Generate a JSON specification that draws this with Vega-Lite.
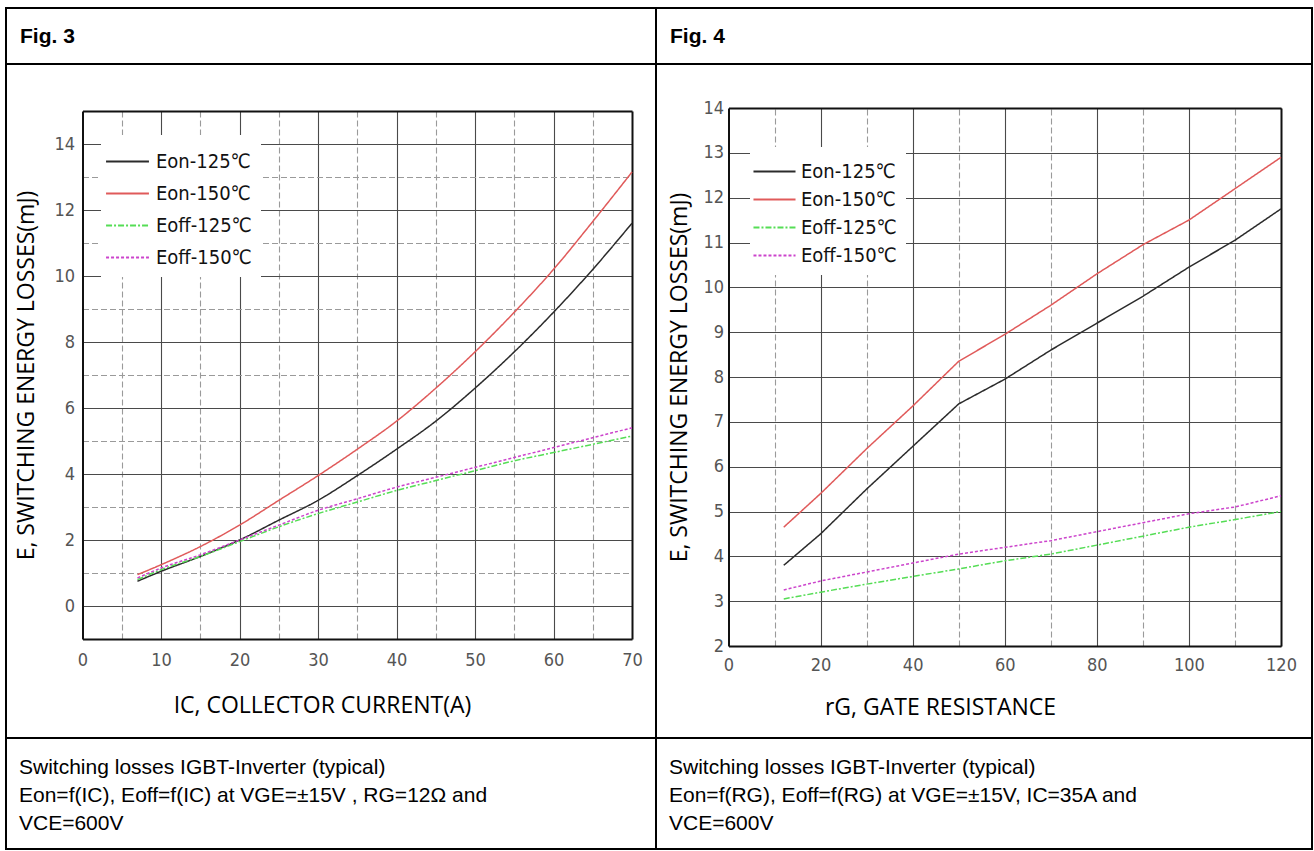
{
  "$schema": "https://vega.github.io/schema/vega-lite/v6.json",
  "padding": {"left": 5, "top": 7, "right": 3, "bottom": 3},
  "background": "#ffffff",
  "config": {
    "view": {"stroke": "#000000", "strokeWidth": 2},
    "axis": {
      "labelFont": "Liberation Sans Narrow, Arial Narrow, DejaVu Sans Condensed, Liberation Sans, sans-serif",
      "labelFontSize": 18,
      "labelColor": "#555555",
      "titleFont": "Open Sans",
      "titleFontSize": 23,
      "titleFontWeight": "normal",
      "titleColor": "#000000",
      "domainColor": "#111111",
      "domainWidth": 2,
      "ticks": false,
      "gridWidth": 1.1
    }
  },
  "resolve": {"scale": {"color": "independent", "strokeDash": "independent"}, "legend": {"color": "independent", "strokeDash": "independent"}},
  "datasets": {
    "fig3": [
      {"x": 7, "y": 0.75, "s": "Eon-125℃"}, {"x": 10, "y": 1.05, "s": "Eon-125℃"}, {"x": 15, "y": 1.5, "s": "Eon-125℃"}, {"x": 20, "y": 2.0, "s": "Eon-125℃"}, {"x": 25, "y": 2.6, "s": "Eon-125℃"}, {"x": 30, "y": 3.2, "s": "Eon-125℃"}, {"x": 35, "y": 3.95, "s": "Eon-125℃"}, {"x": 40, "y": 4.75, "s": "Eon-125℃"}, {"x": 45, "y": 5.6, "s": "Eon-125℃"}, {"x": 50, "y": 6.6, "s": "Eon-125℃"}, {"x": 55, "y": 7.7, "s": "Eon-125℃"}, {"x": 60, "y": 8.9, "s": "Eon-125℃"}, {"x": 65, "y": 10.2, "s": "Eon-125℃"}, {"x": 70, "y": 11.6, "s": "Eon-125℃"},
      {"x": 7, "y": 0.95, "s": "Eon-150℃"}, {"x": 10, "y": 1.25, "s": "Eon-150℃"}, {"x": 15, "y": 1.8, "s": "Eon-150℃"}, {"x": 20, "y": 2.45, "s": "Eon-150℃"}, {"x": 25, "y": 3.2, "s": "Eon-150℃"}, {"x": 30, "y": 3.95, "s": "Eon-150℃"}, {"x": 35, "y": 4.75, "s": "Eon-150℃"}, {"x": 40, "y": 5.6, "s": "Eon-150℃"}, {"x": 45, "y": 6.6, "s": "Eon-150℃"}, {"x": 50, "y": 7.7, "s": "Eon-150℃"}, {"x": 55, "y": 8.9, "s": "Eon-150℃"}, {"x": 60, "y": 10.2, "s": "Eon-150℃"}, {"x": 65, "y": 11.65, "s": "Eon-150℃"}, {"x": 70, "y": 13.15, "s": "Eon-150℃"},
      {"x": 7, "y": 0.8, "s": "Eoff-125℃"}, {"x": 10, "y": 1.1, "s": "Eoff-125℃"}, {"x": 15, "y": 1.5, "s": "Eoff-125℃"}, {"x": 20, "y": 1.95, "s": "Eoff-125℃"}, {"x": 25, "y": 2.4, "s": "Eoff-125℃"}, {"x": 30, "y": 2.8, "s": "Eoff-125℃"}, {"x": 35, "y": 3.15, "s": "Eoff-125℃"}, {"x": 40, "y": 3.5, "s": "Eoff-125℃"}, {"x": 45, "y": 3.8, "s": "Eoff-125℃"}, {"x": 50, "y": 4.1, "s": "Eoff-125℃"}, {"x": 55, "y": 4.4, "s": "Eoff-125℃"}, {"x": 60, "y": 4.65, "s": "Eoff-125℃"}, {"x": 65, "y": 4.9, "s": "Eoff-125℃"}, {"x": 70, "y": 5.15, "s": "Eoff-125℃"},
      {"x": 7, "y": 0.85, "s": "Eoff-150℃"}, {"x": 10, "y": 1.15, "s": "Eoff-150℃"}, {"x": 15, "y": 1.55, "s": "Eoff-150℃"}, {"x": 20, "y": 2.0, "s": "Eoff-150℃"}, {"x": 25, "y": 2.45, "s": "Eoff-150℃"}, {"x": 30, "y": 2.9, "s": "Eoff-150℃"}, {"x": 35, "y": 3.25, "s": "Eoff-150℃"}, {"x": 40, "y": 3.6, "s": "Eoff-150℃"}, {"x": 45, "y": 3.9, "s": "Eoff-150℃"}, {"x": 50, "y": 4.2, "s": "Eoff-150℃"}, {"x": 55, "y": 4.5, "s": "Eoff-150℃"}, {"x": 60, "y": 4.8, "s": "Eoff-150℃"}, {"x": 65, "y": 5.1, "s": "Eoff-150℃"}, {"x": 70, "y": 5.4, "s": "Eoff-150℃"}
    ],
    "fig4": [
      {"x": 12, "y": 3.8, "s": "Eon-125℃"}, {"x": 20, "y": 4.5, "s": "Eon-125℃"}, {"x": 30, "y": 5.5, "s": "Eon-125℃"}, {"x": 40, "y": 6.45, "s": "Eon-125℃"}, {"x": 50, "y": 7.4, "s": "Eon-125℃"}, {"x": 60, "y": 7.95, "s": "Eon-125℃"}, {"x": 70, "y": 8.6, "s": "Eon-125℃"}, {"x": 80, "y": 9.2, "s": "Eon-125℃"}, {"x": 90, "y": 9.8, "s": "Eon-125℃"}, {"x": 100, "y": 10.45, "s": "Eon-125℃"}, {"x": 110, "y": 11.05, "s": "Eon-125℃"}, {"x": 120, "y": 11.75, "s": "Eon-125℃"},
      {"x": 12, "y": 4.65, "s": "Eon-150℃"}, {"x": 20, "y": 5.4, "s": "Eon-150℃"}, {"x": 30, "y": 6.4, "s": "Eon-150℃"}, {"x": 40, "y": 7.35, "s": "Eon-150℃"}, {"x": 50, "y": 8.35, "s": "Eon-150℃"}, {"x": 60, "y": 8.95, "s": "Eon-150℃"}, {"x": 70, "y": 9.6, "s": "Eon-150℃"}, {"x": 80, "y": 10.3, "s": "Eon-150℃"}, {"x": 90, "y": 10.95, "s": "Eon-150℃"}, {"x": 100, "y": 11.5, "s": "Eon-150℃"}, {"x": 110, "y": 12.2, "s": "Eon-150℃"}, {"x": 120, "y": 12.9, "s": "Eon-150℃"},
      {"x": 12, "y": 3.05, "s": "Eoff-125℃"}, {"x": 20, "y": 3.2, "s": "Eoff-125℃"}, {"x": 30, "y": 3.38, "s": "Eoff-125℃"}, {"x": 40, "y": 3.55, "s": "Eoff-125℃"}, {"x": 50, "y": 3.72, "s": "Eoff-125℃"}, {"x": 60, "y": 3.9, "s": "Eoff-125℃"}, {"x": 70, "y": 4.05, "s": "Eoff-125℃"}, {"x": 80, "y": 4.25, "s": "Eoff-125℃"}, {"x": 90, "y": 4.45, "s": "Eoff-125℃"}, {"x": 100, "y": 4.65, "s": "Eoff-125℃"}, {"x": 110, "y": 4.82, "s": "Eoff-125℃"}, {"x": 120, "y": 5.0, "s": "Eoff-125℃"},
      {"x": 12, "y": 3.25, "s": "Eoff-150℃"}, {"x": 20, "y": 3.45, "s": "Eoff-150℃"}, {"x": 30, "y": 3.65, "s": "Eoff-150℃"}, {"x": 40, "y": 3.85, "s": "Eoff-150℃"}, {"x": 50, "y": 4.05, "s": "Eoff-150℃"}, {"x": 60, "y": 4.2, "s": "Eoff-150℃"}, {"x": 70, "y": 4.35, "s": "Eoff-150℃"}, {"x": 80, "y": 4.55, "s": "Eoff-150℃"}, {"x": 90, "y": 4.75, "s": "Eoff-150℃"}, {"x": 100, "y": 4.95, "s": "Eoff-150℃"}, {"x": 110, "y": 5.1, "s": "Eoff-150℃"}, {"x": 120, "y": 5.35, "s": "Eoff-150℃"}
    ]
  },
  "columns": 2,
  "spacing": 0,
  "bounds": "flush",
  "concat": [
    {
      "width": 650, "height": 56,
      "view": {"stroke": "#000000", "strokeWidth": 2},
      "data": {"values": [{"label": "Fig. 3"}]},
      "mark": {"type": "text", "align": "left", "baseline": "middle", "x": 14, "y": 29, "font": "Liberation Sans", "fontWeight": "bold", "fontSize": 21, "color": "#000000"},
      "encoding": {"text": {"field": "label"}}
    },
    {
      "width": 656, "height": 56,
      "view": {"stroke": "#000000", "strokeWidth": 2},
      "data": {"values": [{"label": "Fig. 4"}]},
      "mark": {"type": "text", "align": "left", "baseline": "middle", "x": 14, "y": 29, "font": "Liberation Sans", "fontWeight": "bold", "fontSize": 21, "color": "#000000"},
      "encoding": {"text": {"field": "label"}}
    },
    {
      "width": 650, "height": 674,
      "data": {"name": "fig3"},
      "encoding": {
        "color": {"field": "s", "type": "nominal",
          "scale": {"domain": ["Eon-125℃", "Eon-150℃", "Eoff-125℃", "Eoff-150℃"], "range": ["#2b2b2b", "#e05a5a", "#55dd55", "#cc44cc"]},
          "legend": {"title": null, "orient": "none", "legendX": 95, "legendY": 71, "fillColor": "#ffffff", "padding": 9, "symbolType": "M-1.3,0H1.3", "symbolSize": 1089, "symbolStrokeWidth": 2, "labelOffset": 11, "labelFont": "Liberation Sans Narrow, Arial Narrow, DejaVu Sans Condensed, Liberation Sans, sans-serif", "labelFontSize": 20, "labelColor": "#111111", "rowPadding": 4}},
        "strokeDash": {"field": "s", "type": "nominal",
          "scale": {"domain": ["Eon-125℃", "Eon-150℃", "Eoff-125℃", "Eoff-150℃"], "range": [[1, 0], [1, 0], [6, 2, 2, 2], [3, 2]]},
          "legend": {"title": null, "orient": "none", "legendX": 95, "legendY": 71, "fillColor": "#ffffff", "padding": 9, "symbolType": "M-1.3,0H1.3", "symbolSize": 1089, "symbolStrokeWidth": 2, "labelOffset": 11, "labelFont": "Liberation Sans Narrow, Arial Narrow, DejaVu Sans Condensed, Liberation Sans, sans-serif", "labelFontSize": 20, "labelColor": "#111111", "rowPadding": 4}}
      },
      "layer": [
        {
          "transform": [{"filter": "indexof(datum.s, 'Eon') == 0"}],
          "mark": {"type": "line", "interpolate": "monotone", "strokeWidth": 1.5},
          "encoding": {
            "x": {"field": "x", "type": "quantitative",
              "scale": {"domain": [0, 70], "range": [76.5, 626], "nice": false, "zero": false},
              "axis": {"orient": "bottom", "offset": -99, "values": [0, 10, 20, 30, 40, 50, 60, 70], "grid": false, "domain": true, "labelPadding": 12, "labelFlush": false, "labelOverlap": false, "title": "IC, COLLECTOR CURRENT(A)", "titleX": 316, "titleY": 66, "titleBaseline": "middle", "titleAlign": "center"}},
            "y": {"field": "y", "type": "quantitative",
              "scale": {"domain": [-1, 15], "range": [575, 47], "nice": false, "zero": false},
              "axis": {"orient": "left", "offset": -76.5, "values": [0, 1, 2, 3, 4, 5, 6, 7, 8, 9, 10, 11, 12, 13, 14], "format": "d", "labelExpr": "datum.value % 2 == 0 ? datum.label : ''", "grid": true,
                "gridColor": {"condition": {"test": "datum.value % 2 != 0", "value": "#9a9a9a"}, "value": "#4a4a4a"},
                "gridDash": {"condition": {"test": "datum.value % 2 != 0", "value": [6, 3]}, "value": []},
                "domain": true, "labelPadding": 8, "labelOverlap": false, "title": "E, SWITCHING ENERGY LOSSES(mJ)", "titleX": -56, "titleBaseline": "middle"}}
          }
        },
        {
          "transform": [{"filter": "indexof(datum.s, 'Eoff') == 0"}],
          "mark": {"type": "line", "interpolate": "monotone", "strokeWidth": 1.5},
          "encoding": {
            "x": {"field": "x", "type": "quantitative",
              "scale": {"domain": [0, 70], "range": [76.5, 626], "nice": false, "zero": false},
              "axis": {"orient": "top", "offset": -47, "values": [5, 10, 15, 20, 25, 30, 35, 40, 45, 50, 55, 60, 65], "grid": true,
                "gridColor": {"condition": {"test": "datum.value % 10 != 0", "value": "#9a9a9a"}, "value": "#4a4a4a"},
                "gridDash": {"condition": {"test": "datum.value % 10 != 0", "value": [6, 3]}, "value": []},
                "labels": false, "domain": true, "title": null}},
            "y": {"field": "y", "type": "quantitative",
              "scale": {"domain": [-1, 15], "range": [575, 47], "nice": false, "zero": false},
              "axis": {"orient": "right", "offset": -24, "values": [], "grid": false, "labels": false, "domain": true, "title": null}}
          }
        }
      ]
    },
    {
      "width": 656, "height": 674,
      "data": {"name": "fig4"},
      "encoding": {
        "color": {"field": "s", "type": "nominal",
          "scale": {"domain": ["Eon-125℃", "Eon-150℃", "Eoff-125℃", "Eoff-150℃"], "range": ["#2b2b2b", "#e05a5a", "#55dd55", "#cc44cc"]},
          "legend": {"title": null, "orient": "none", "legendX": 94, "legendY": 83, "fillColor": "#ffffff", "padding": 9, "symbolType": "M-1.45,0H1.45", "symbolSize": 841, "symbolStrokeWidth": 2, "labelOffset": 11, "labelFont": "Liberation Sans Narrow, Arial Narrow, DejaVu Sans Condensed, Liberation Sans, sans-serif", "labelFontSize": 20, "labelColor": "#111111", "rowPadding": 2}},
        "strokeDash": {"field": "s", "type": "nominal",
          "scale": {"domain": ["Eon-125℃", "Eon-150℃", "Eoff-125℃", "Eoff-150℃"], "range": [[1, 0], [1, 0], [6, 2, 2, 2], [3, 2]]},
          "legend": {"title": null, "orient": "none", "legendX": 94, "legendY": 83, "fillColor": "#ffffff", "padding": 9, "symbolType": "M-1.45,0H1.45", "symbolSize": 841, "symbolStrokeWidth": 2, "labelOffset": 11, "labelFont": "Liberation Sans Narrow, Arial Narrow, DejaVu Sans Condensed, Liberation Sans, sans-serif", "labelFontSize": 20, "labelColor": "#111111", "rowPadding": 2}}
      },
      "layer": [
        {
          "transform": [{"filter": "indexof(datum.s, 'Eon') == 0"}],
          "mark": {"type": "line", "strokeWidth": 1.5},
          "encoding": {
            "x": {"field": "x", "type": "quantitative",
              "scale": {"domain": [0, 120], "range": [72.5, 625], "nice": false, "zero": false},
              "axis": {"orient": "bottom", "offset": -92, "values": [0, 20, 40, 60, 80, 100, 120], "grid": false, "domain": true, "labelPadding": 10, "labelFlush": false, "labelOverlap": false, "title": "rG, GATE RESISTANCE", "titleX": 284, "titleY": 61, "titleBaseline": "middle", "titleAlign": "center"}},
            "y": {"field": "y", "type": "quantitative",
              "scale": {"domain": [2, 14], "range": [582, 44], "nice": false, "zero": false},
              "axis": {"orient": "left", "offset": -72.5, "values": [2, 2.5, 3, 3.5, 4, 4.5, 5, 5.5, 6, 6.5, 7, 7.5, 8, 8.5, 9, 9.5, 10, 10.5, 11, 11.5, 12, 12.5, 13, 13.5, 14], "format": "d", "labelExpr": "datum.value % 1 == 0 ? datum.label : ''", "grid": true,
                "gridColor": {"condition": {"test": "datum.value % 1 != 0", "value": "#9a9a9a"}, "value": "#4a4a4a"},
                "gridDash": {"condition": {"test": "datum.value % 1 != 0", "value": [6, 3]}, "value": []},
                "domain": true, "labelPadding": 5, "labelOverlap": false, "title": "E, SWITCHING ENERGY LOSSES(mJ)", "titleX": -49, "titleBaseline": "middle"}}
          }
        },
        {
          "transform": [{"filter": "indexof(datum.s, 'Eoff') == 0"}],
          "mark": {"type": "line", "strokeWidth": 1.5},
          "encoding": {
            "x": {"field": "x", "type": "quantitative",
              "scale": {"domain": [0, 120], "range": [72.5, 625], "nice": false, "zero": false},
              "axis": {"orient": "top", "offset": -44, "values": [10, 20, 30, 40, 50, 60, 70, 80, 90, 100, 110], "grid": true,
                "gridColor": {"condition": {"test": "datum.value % 20 != 0", "value": "#9a9a9a"}, "value": "#4a4a4a"},
                "gridDash": {"condition": {"test": "datum.value % 20 != 0", "value": [6, 3]}, "value": []},
                "labels": false, "domain": true, "title": null}},
            "y": {"field": "y", "type": "quantitative",
              "scale": {"domain": [2, 14], "range": [582, 44], "nice": false, "zero": false},
              "axis": {"orient": "right", "offset": -31, "values": [], "grid": false, "labels": false, "domain": true, "title": null}}
          }
        }
      ]
    },
    {
      "width": 650, "height": 111,
      "view": {"stroke": "#000000", "strokeWidth": 2},
      "data": {"values": [{"caption": "Switching losses IGBT-Inverter (typical)\nEon=f(IC), Eoff=f(IC) at VGE=±15V , RG=12Ω and\nVCE=600V"}]},
      "mark": {"type": "text", "align": "left", "baseline": "top", "x": 13, "y": 19, "lineBreak": "\n", "lineHeight": 28, "font": "Liberation Sans", "fontSize": 21, "color": "#000000"},
      "encoding": {"text": {"field": "caption"}}
    },
    {
      "width": 656, "height": 111,
      "view": {"stroke": "#000000", "strokeWidth": 2},
      "data": {"values": [{"caption": "Switching losses IGBT-Inverter (typical)\nEon=f(RG), Eoff=f(RG) at VGE=±15V, IC=35A and\nVCE=600V"}]},
      "mark": {"type": "text", "align": "left", "baseline": "top", "x": 13, "y": 19, "lineBreak": "\n", "lineHeight": 28, "font": "Liberation Sans", "fontSize": 21, "color": "#000000"},
      "encoding": {"text": {"field": "caption"}}
    }
  ]
}
